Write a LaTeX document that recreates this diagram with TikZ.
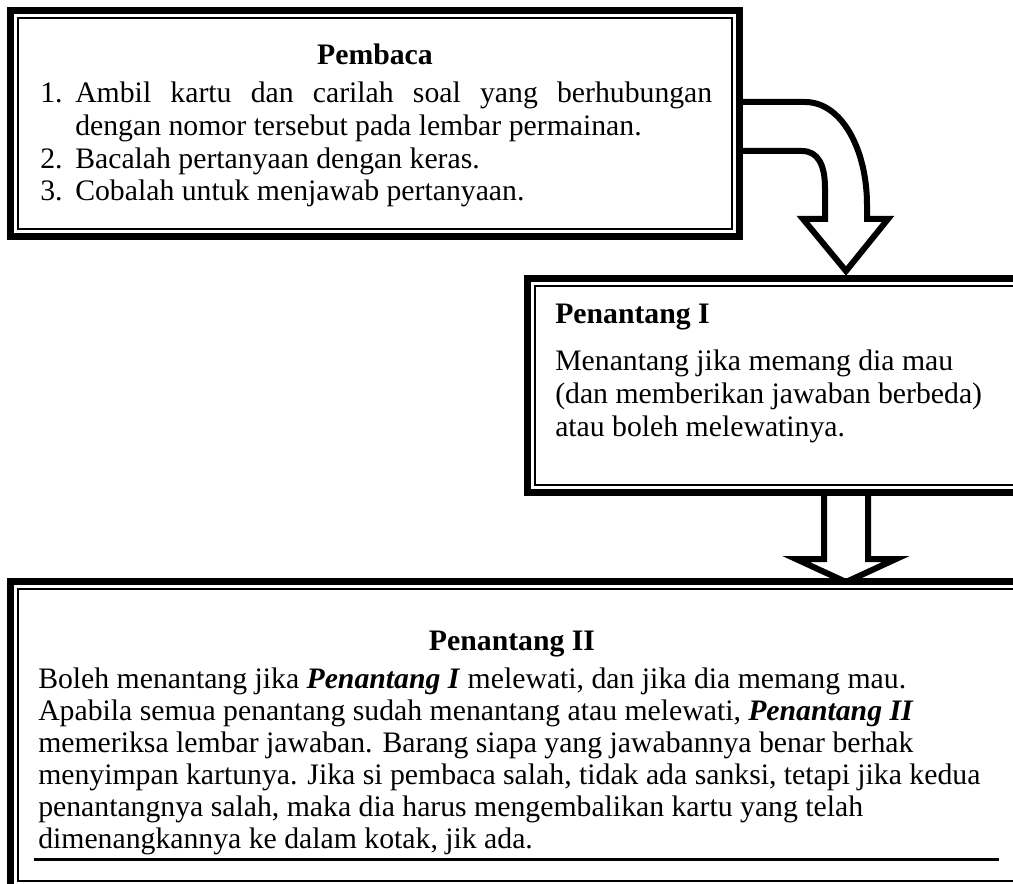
\documentclass[tikz,border=0pt]{standalone}
\usepackage{fontspec}
\setmainfont{Liberation Serif}
\begin{document}
\begin{tikzpicture}[x=0.75pt,y=-0.75pt,
  thickb/.style={line width=5.25pt},
  thinb/.style={line width=1.1pt},
  blockarrow/.style={line width=4.5pt, line join=miter, miter limit=10, fill=white},
  txt/.style={font=\fontsize{22.3pt}{26pt}\selectfont, inner sep=0pt, anchor=base west},
  ttl/.style={font=\fontsize{22.3pt}{26pt}\selectfont\bfseries, inner sep=0pt, anchor=base},
  ttlw/.style={font=\fontsize{22.3pt}{26pt}\selectfont\bfseries, inner sep=0pt, anchor=base west}
]
\useasboundingbox (0,0) rectangle (1013,884);
% ---------- arrow 2 (drawn before box II so the box covers the tip)
\draw[blockarrow] (824,496) -- (824,559) -- (796,559) -- (846,582) -- (896,559) -- (868,559) -- (868,496);
% ---------- box Pembaca
\draw[thickb] (10.5,10.5) rectangle (739.5,236.5);
\draw[thinb] (18,18) rectangle (732,229);
% ---------- box Penantang I
\draw[thickb] (527.5,278.5) rectangle (1040,492.5);
\draw[thinb] (535,286) rectangle (1040,485);
% ---------- box Penantang II
\fill[white] (7,578) rectangle (1013,884);
\draw[thickb] (10.5,581.5) rectangle (1040,900);
\draw[thinb] (18,589) rectangle (1040,881);
% ---------- curved arrow
\draw[blockarrow] (743,102) -- (805,102) .. controls (842,102) and (867,150) .. (867,205) -- (867,219) -- (888,219) -- (846,271) -- (803,219) -- (825,219) -- (825,188) .. controls (825,165) and (818,151) .. (802,151) -- (743,151);
% ---------- texts: Pembaca
\node[ttl] (t1) at (375,65) {Pembaca};
\node[txt] (n1) at (40,103) {1.};
\node[txt] (l1a) at (75,103) {\makebox[477.75pt][s]{Ambil kartu dan carilah soal yang berhubungan}};
\node[txt] (l1b) at (75,136) {dengan nomor tersebut pada lembar permainan.};
\node[txt] (n2) at (40,169) {2.};
\node[txt] (l2) at (75,169) {Bacalah pertanyaan dengan keras.};
\node[txt] (n3) at (40,201) {3.};
\node[txt] (l3) at (75,201) {Cobalah untuk menjawab pertanyaan.};
% ---------- texts: Penantang I
\node[ttlw] (t2) at (555,323) {Penantang I};
\node[txt] (m1) at (555,370) {Menantang jika memang dia mau};
\node[txt] (m2) at (555,403) {(dan memberikan jawaban berbeda)};
\node[txt] (m3) at (555,436) {atau boleh melewatinya.};
% ---------- texts: Penantang II
\node[ttl] (t3) at (512,650) {Penantang II};
\node[txt] (q1) at (38,688) {Boleh menantang jika \textbf{\textit{Penantang I}} melewati, dan jika dia memang mau.};
\node[txt] (q2) at (38,720) {Apabila semua penantang sudah menantang atau melewati, \textbf{\textit{Penantang II}}};
\node[txt] (q3) at (38,752) {memeriksa lembar jawaban. Barang siapa yang jawabannya benar berhak};
\node[txt] (q4) at (38,784) {menyimpan kartunya. Jika si pembaca salah, tidak ada sanksi, tetapi jika kedua};
\node[txt] (q5) at (38,816) {penantangnya salah, maka dia harus mengembalikan kartu yang telah};
\node[txt] (q6) at (38,848) {dimenangkannya ke dalam kotak, jik ada.};
\draw[line width=2.25pt] (34,859) -- (999,859);
\end{tikzpicture}
\end{document}
